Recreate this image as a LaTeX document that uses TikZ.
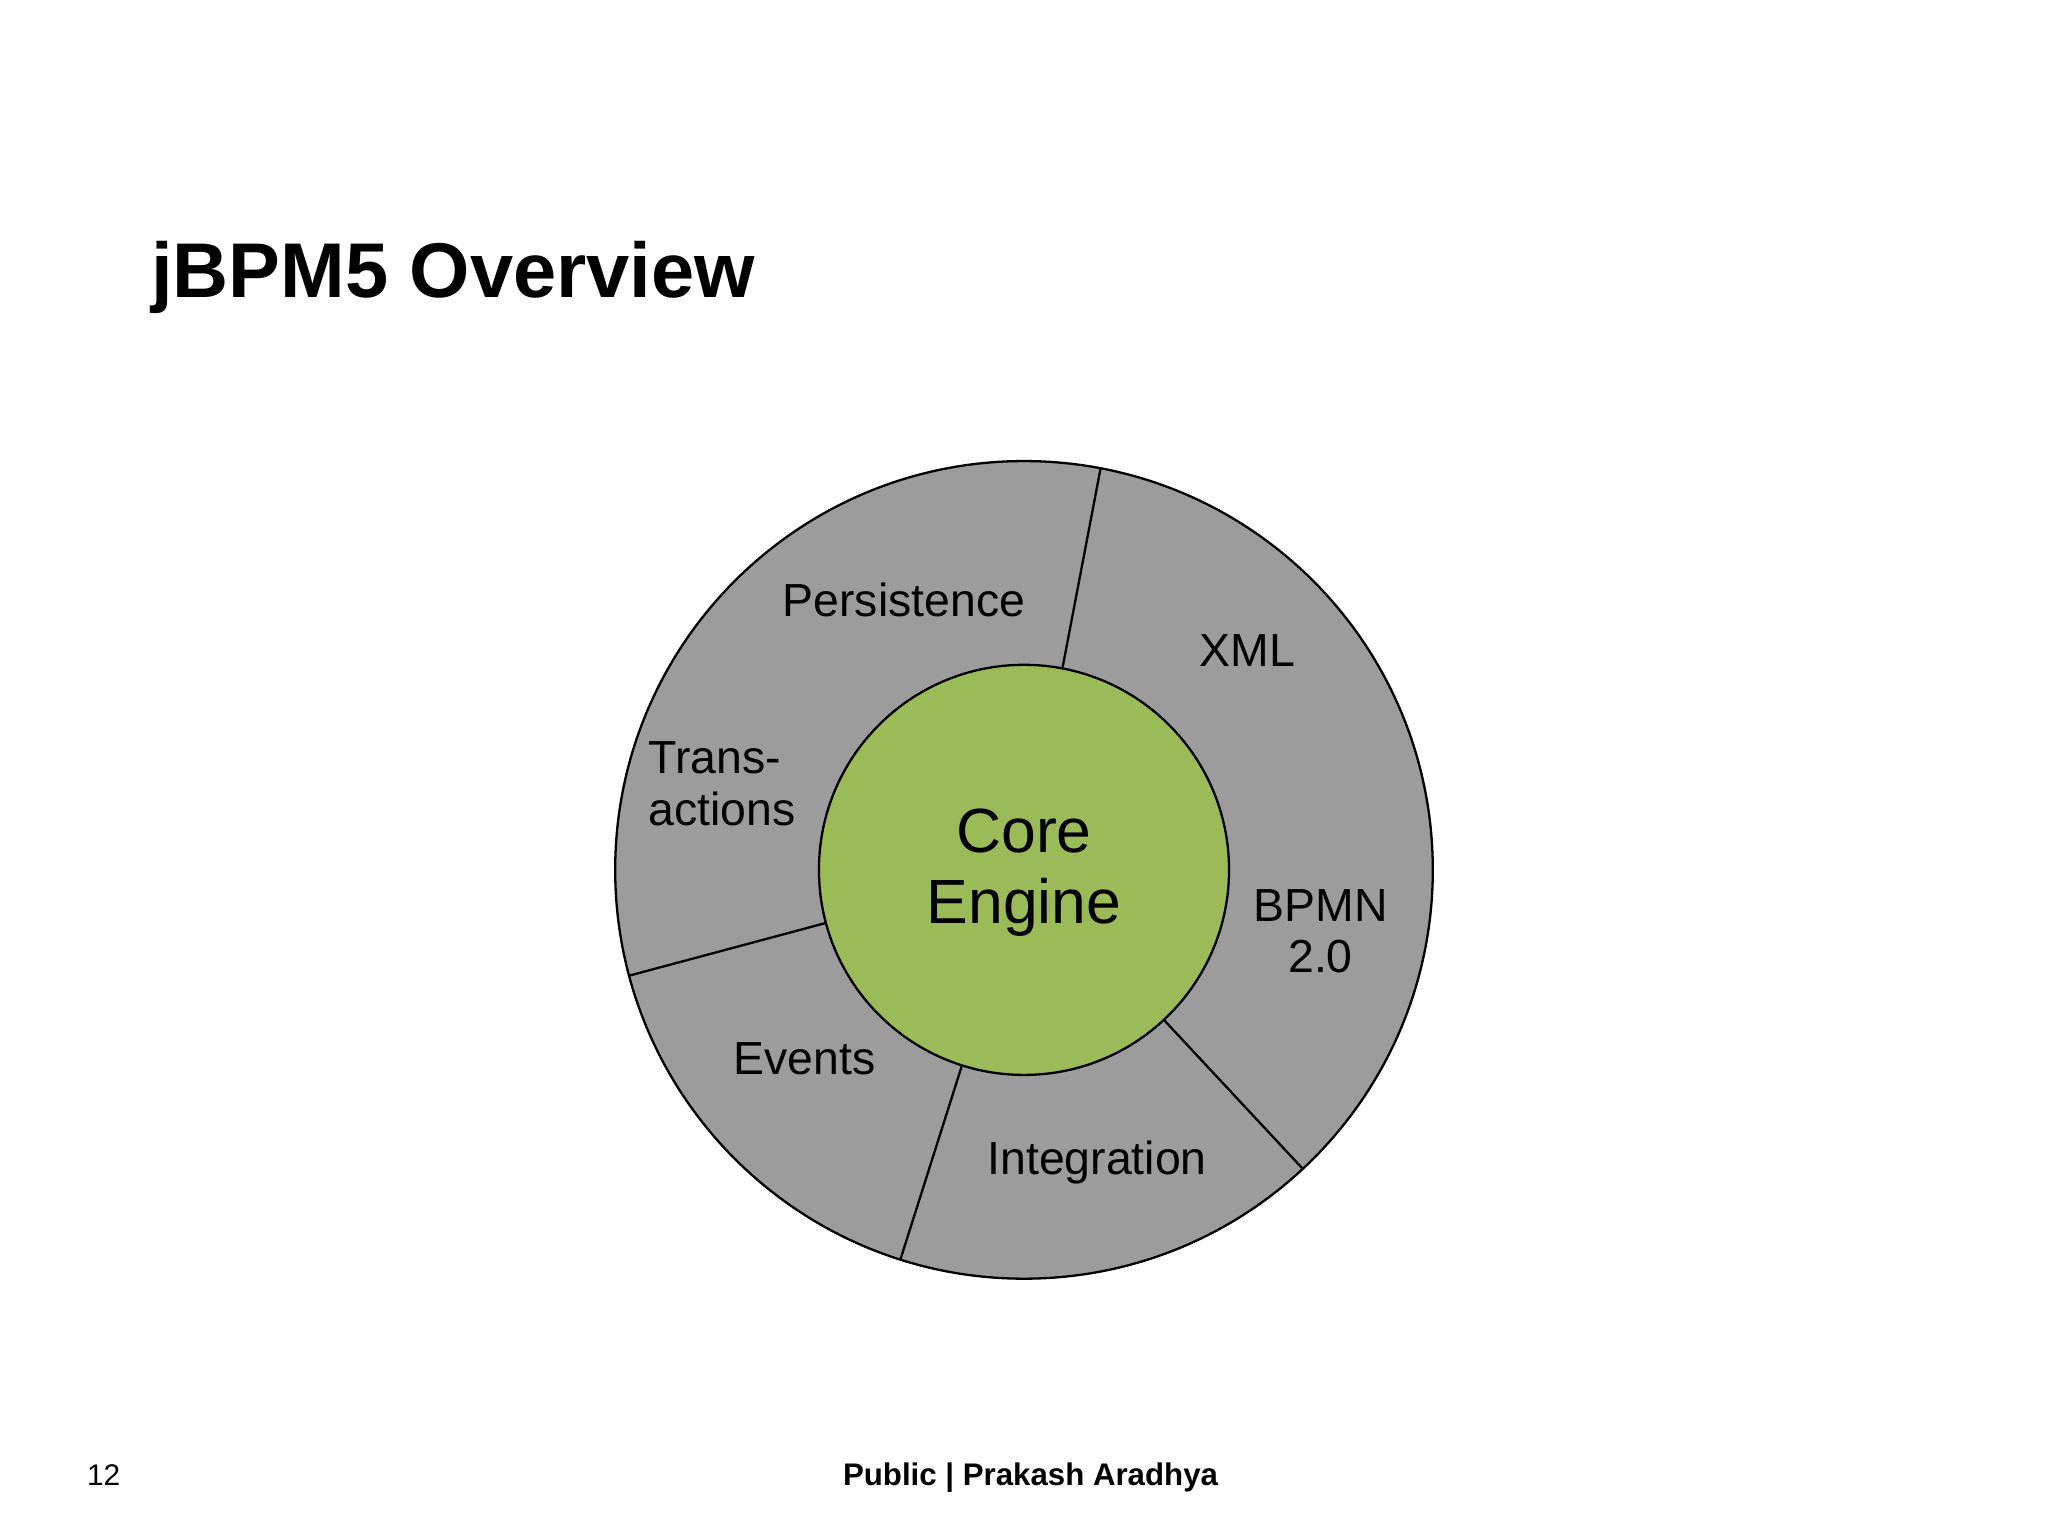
\documentclass[tikz,border=0pt]{standalone}
\usepackage{fontspec}
\setmainfont{Liberation Sans}
\usetikzlibrary{calc}
\begin{document}
\begin{tikzpicture}[x=0.01cm,y=-0.01cm,
  lbl/.style={font=\fontsize{10.1pt}{11.3pt}\selectfont,align=center,inner sep=0},
  seg/.style={draw=black,line width=0.5pt}]
\useasboundingbox (0,0) rectangle (1568,1176);
\fill[white] (0,0) rectangle (1568,1176);
\node[anchor=base west,font=\bfseries\fontsize{16.9pt}{20pt}\selectfont,inner sep=0] (title) at (115,228) {jBPM5 Overview};
\coordinate (c) at (784,666);
\filldraw[fill=gray!78!white,draw=black,line width=0.5pt] (c) circle[radius=313];
\filldraw[fill={rgb,255:red,155;green,187;blue,89},draw=black,line width=0.5pt] (c) circle[radius=157];
\foreach \a in {79.2,195,252.4,313}{
  \draw[seg] ($(c)+(-\a:157)$) -- ($(c)+(-\a:313)$);
}
\node[lbl] (pers) at (692,459) {Persistence};
\node[lbl] (xml) at (955,498) {XML};
\node[lbl,align=left] (trans) at (553,600) {Trans-\\actions};
\node[lbl] (bpmn) at (1011,713) {BPMN\\2.0};
\node[lbl] (events) at (616,811) {Events};
\node[lbl] (integ) at (840,890) {Integration};
\node[lbl,font=\fontsize{13.6pt}{15.5pt}\selectfont] (core) at (784,668) {Core\\Engine};
\node[anchor=base west,font=\fontsize{6.5pt}{7pt}\selectfont,inner sep=0] (num) at (66,1137) {12};
\node[anchor=base,font=\bfseries\fontsize{6.8pt}{7pt}\selectfont,inner sep=0] (foot) at (789,1137) {Public | Prakash Aradhya};
\end{tikzpicture}
\end{document}
